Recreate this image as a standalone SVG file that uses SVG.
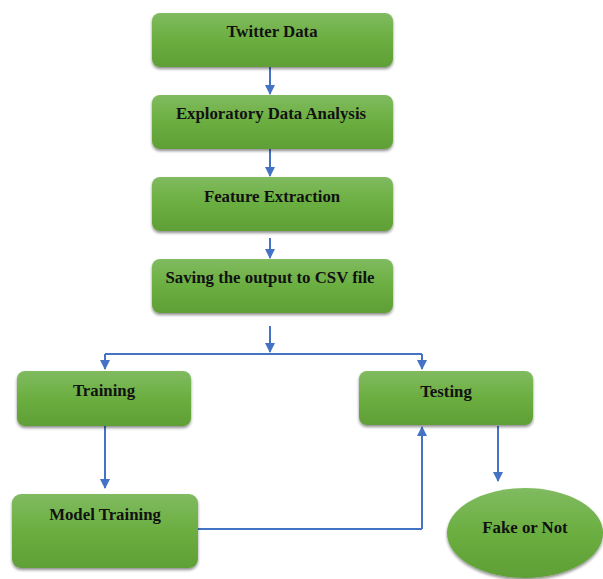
<svg xmlns="http://www.w3.org/2000/svg" width="603" height="579" viewBox="0 0 603 579">
<defs>
<linearGradient id="g" x1="0" y1="0" x2="0" y2="1">
<stop offset="0" stop-color="#80bb60"/>
<stop offset="0.5" stop-color="#6bae40"/>
<stop offset="1" stop-color="#5f9f36"/>
</linearGradient>
<filter id="sh" x="-10%" y="-10%" width="120%" height="130%">
<feGaussianBlur in="SourceAlpha" stdDeviation="1.5"/>
<feOffset dx="0" dy="2" result="b"/>
<feComponentTransfer><feFuncA type="linear" slope="0.45"/></feComponentTransfer>
<feMerge><feMergeNode/><feMergeNode in="SourceGraphic"/></feMerge>
</filter>
<marker id="ar" viewBox="0 0 10 10" refX="9" refY="5" markerWidth="5" markerHeight="5" orient="auto">
<path d="M0,0 L10,5 L0,10 z" fill="#4472c4"/>
</marker>
</defs>
<style>
.n{fill:url(#g);filter:url(#sh)}
.t{font-family:"Liberation Serif","Times New Roman",serif;font-weight:bold;font-size:16.8px;fill:#111;text-anchor:middle}
.c{fill:none;stroke:#4472c4;stroke-width:2}
.a{marker-end:url(#ar)}
</style>
<rect width="603" height="579" fill="#fff"/>
<g id="connectors">
<path class="c a" d="M270,67 V94"/>
<path class="c a" d="M270,149 V176"/>
<path class="c a" d="M270,238 V258"/>
<path class="c a" d="M270,326 V352"/>
<path class="c" d="M105,354 H422"/>
<path class="c a" d="M105,354 V369"/>
<path class="c a" d="M422,354 V369"/>
<path class="c a" d="M105,426 V488"/>
<path class="c" d="M198,529 H422"/>
<path class="c a" d="M422,529 V427"/>
<path class="c a" d="M498,426 V481"/>
</g>
<g id="twitter-data"><rect class="n" x="152" y="13" width="241" height="54" rx="8"/><text class="t" x="272" y="37">Twitter Data</text></g>
<g id="eda"><rect class="n" x="152" y="95" width="241" height="54" rx="8"/><text class="t" x="271" y="119">Exploratory Data Analysis</text></g>
<g id="feature-extraction"><rect class="n" x="152" y="177" width="241" height="54" rx="8"/><text class="t" x="272" y="202">Feature Extraction</text></g>
<g id="saving-csv"><rect class="n" x="152" y="259" width="241" height="54" rx="8"/><text class="t" x="270" y="283">Saving the output to CSV file</text></g>
<g id="training"><rect class="n" x="17" y="371" width="174" height="55" rx="8"/><text class="t" x="104" y="396">Training</text></g>
<g id="testing"><rect class="n" x="359" y="371" width="174" height="54" rx="8"/><text class="t" x="446" y="397">Testing</text></g>
<g id="model-training"><rect class="n" x="12" y="494" width="186" height="74" rx="9"/><text class="t" x="105" y="520">Model Training</text></g>
<g id="fake-or-not"><ellipse class="n" cx="525" cy="533" rx="78" ry="45"/><text class="t" x="525" y="533">Fake or Not</text></g>
</svg>
